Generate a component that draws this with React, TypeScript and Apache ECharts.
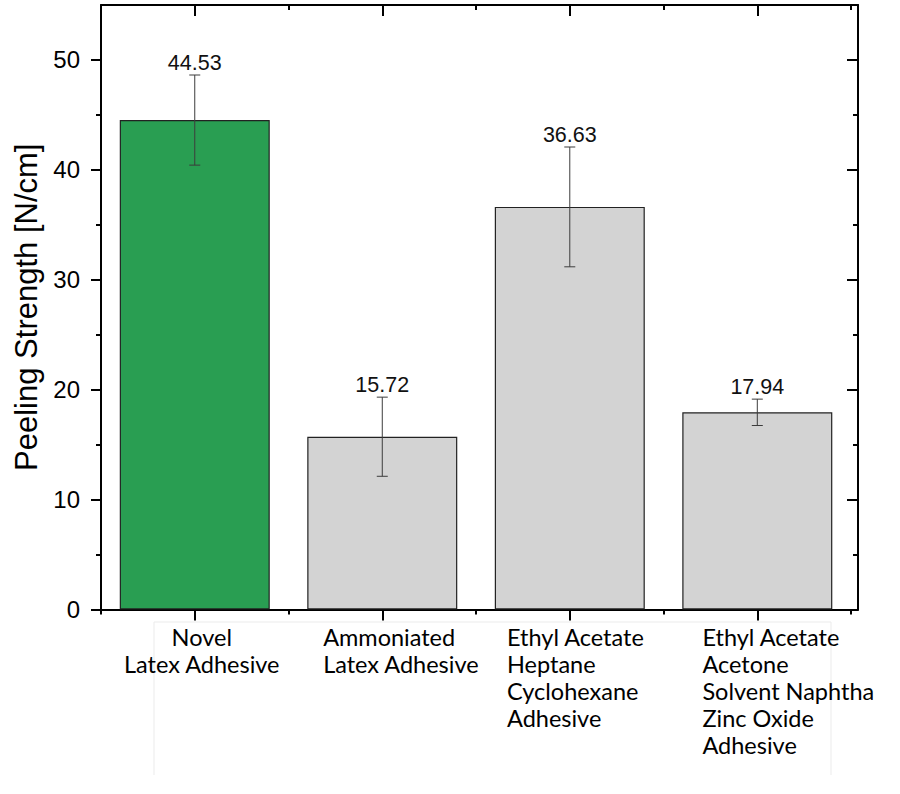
import React, { useEffect, useRef } from "react";
import * as echarts from "echarts";

const categories = [
  "Novel\nLatex Adhesive",
  "Ammoniated\nLatex Adhesive",
  "Ethyl Acetate\nHeptane\nCyclohexane\nAdhesive",
  "Ethyl Acetate\nAcetone\nSolvent Naphtha\nZinc Oxide\nAdhesive",
];
const catPositions = [1, 2, 3, 4];
const catBoundaries = [0.5, 1.5, 2.5, 3.5, 4.5];
const means = [44.53, 15.72, 36.63, 17.94];
const errors = [4.1, 3.6, 5.45, 1.2];
const barColors = ["#299E52", "#D3D3D3", "#D3D3D3", "#D3D3D3"];
const yTicks = [0, 10, 20, 30, 40, 50];
const yMinorTicks = [5, 15, 25, 35, 45];
const yName = "Peeling Strength [N/cm]";

const NUM_FONT = "'Liberation Sans', Arial, sans-serif";
const CAT_FONT = "Lato, 'Noto Sans', sans-serif";

export default function App() {
  const ref = useRef<HTMLDivElement>(null);
  useEffect(() => {
    if (!ref.current) return;
    const chart = echarts.init(ref.current, undefined, { renderer: "svg" });
    const xMin = 0.5;
    const xMax = 4.537;
    const lineStyle = { color: "#000", width: 2 };
    const baseX = {
      type: "value" as const,
      min: xMin,
      max: xMax,
      splitLine: { show: false },
      axisLine: { onZero: false, show: true, lineStyle },
    };
    const baseY = {
      type: "value" as const,
      min: 0,
      max: 55,
      splitLine: { show: false },
      axisLine: { onZero: false, show: true, lineStyle },
    };
    const catFontSize = 23.5;
    const shifts = [14, 38, 12, 62];
    const rich: any = {};
    for (let i = 0; i < categories.length; i++) {
      rich["s" + i] = {
        align: i === 0 ? "center" : "left",
        padding: [0, 0, 0, shifts[i]],
        fontSize: catFontSize,
        fontFamily: CAT_FONT,
        color: "#000",
        lineHeight: 27,
      };
    }
    const catLabel = (values: number[]) => ({
      show: true,
      customValues: values,
      margin: 14,
      align: "center",
      fontSize: catFontSize,
      fontFamily: CAT_FONT,
      color: "#000",
      lineHeight: 27,
      hideOverlap: false,
      rich,
      formatter: (v: number) => {
        const i = Math.round(v) - 1;
        if (i < 0 || i >= categories.length) return "";
        return categories[i]
          .split("\n")
          .map((l) => `{s${i}|${l}}`)
          .join("\n");
      },
    });
    const oddCats = catPositions.filter((_, i) => i % 2 === 0);
    const evenCats = catPositions.filter((_, i) => i % 2 === 1);
    const option: any = {
      animation: false,
      grid: { left: 101, right: 42, top: 5, bottom: 184.5, containLabel: false },
      xAxis: [
        {
          ...baseX,
          position: "bottom",
          axisTick: { show: true, customValues: catPositions, length: 11, inside: false, lineStyle: { width: 2, color: "#000" } },
          axisLabel: catLabel(oddCats),
        },
        {
          ...baseX,
          position: "bottom",
          axisLine: { onZero: false, show: false },
          axisTick: { show: true, customValues: catBoundaries, length: 5, inside: false, lineStyle: { width: 2, color: "#000" } },
          axisLabel: catLabel(evenCats),
        },
        {
          ...baseX,
          position: "top",
          axisTick: { show: true, customValues: catPositions, length: 11, inside: true, lineStyle: { width: 2, color: "#000" } },
          axisLabel: { show: false },
        },
        {
          ...baseX,
          position: "top",
          axisLine: { onZero: false, show: false },
          axisTick: { show: true, customValues: catBoundaries, length: 5, inside: true, lineStyle: { width: 2, color: "#000" } },
          axisLabel: { show: false },
        },
      ],
      yAxis: [
        {
          ...baseY,
          position: "left",
          name: yName,
          nameLocation: "middle",
          nameGap: 58,
          nameTextStyle: { fontSize: 31, fontFamily: NUM_FONT, color: "#000" },
          axisTick: { show: true, customValues: yTicks, length: 10, inside: false, lineStyle: { width: 2, color: "#000" } },
          axisLabel: {
            show: true,
            customValues: yTicks,
            margin: 21,
            fontSize: 24,
            fontFamily: NUM_FONT,
            color: "#000",
          },
        },
        {
          ...baseY,
          position: "left",
          axisLine: { onZero: false, show: false },
          axisTick: { show: true, customValues: yMinorTicks, length: 5, inside: false, lineStyle: { width: 2, color: "#000" } },
          axisLabel: { show: false },
        },
        {
          ...baseY,
          position: "right",
          axisTick: { show: true, customValues: yTicks, length: 11, inside: true, lineStyle: { width: 2, color: "#000" } },
          axisLabel: { show: false },
        },
        {
          ...baseY,
          position: "right",
          axisLine: { onZero: false, show: false },
          axisTick: { show: true, customValues: yMinorTicks, length: 5, inside: true, lineStyle: { width: 2, color: "#000" } },
          axisLabel: { show: false },
        },
      ],
      graphic: [
        {
          type: "polyline",
          z: -1,
          silent: true,
          shape: { points: [[154, 775], [154, 622], [831, 622], [831, 775]] },
          style: { fill: "none", stroke: "#ebebeb", lineWidth: 1 },
        },
      ],
      series: [
        {
          type: "bar",
          xAxisIndex: 0,
          yAxisIndex: 0,
          barWidth: 150,
          data: means.map((m, i) => ({
            value: [catPositions[i], m],
            itemStyle: { color: barColors[i], borderColor: "#222", borderWidth: 1.2 },
          })),
        },
        {
          type: "custom",
          xAxisIndex: 0,
          yAxisIndex: 0,
          z: 5,
          data: means.map((m, i) => [catPositions[i], m, errors[i]]),
          renderItem: (params: any, api: any) => {
            const x = api.value(0);
            const m = api.value(1);
            const e = api.value(2);
            const top = api.coord([x, m + e]);
            const bot = api.coord([x, m - e]);
            const cap = 5.5;
            const st = { stroke: "#3c3c3c", lineWidth: 1 };
            return {
              type: "group",
              children: [
                { type: "line", shape: { x1: top[0], y1: top[1], x2: bot[0], y2: bot[1] }, style: st },
                { type: "line", shape: { x1: top[0] - cap, y1: top[1], x2: top[0] + cap, y2: top[1] }, style: st },
                { type: "line", shape: { x1: bot[0] - cap, y1: bot[1], x2: bot[0] + cap, y2: bot[1] }, style: st },
                {
                  type: "text",
                  x: top[0],
                  y: top[1] - 1,
                  style: {
                    text: m.toFixed(2),
                    textAlign: "center",
                    textVerticalAlign: "bottom",
                    fontSize: 21.5,
                    fontFamily: NUM_FONT,
                    fill: "#111",
                  },
                },
              ],
            };
          },
        },
      ],
    };
    chart.setOption(option);
    return () => chart.dispose();
  }, []);
  return (
    <div
      ref={ref}
      style={{ position: "fixed", left: 0, top: 0, width: 900, height: 794, background: "#fff" }}
    />
  );
}
